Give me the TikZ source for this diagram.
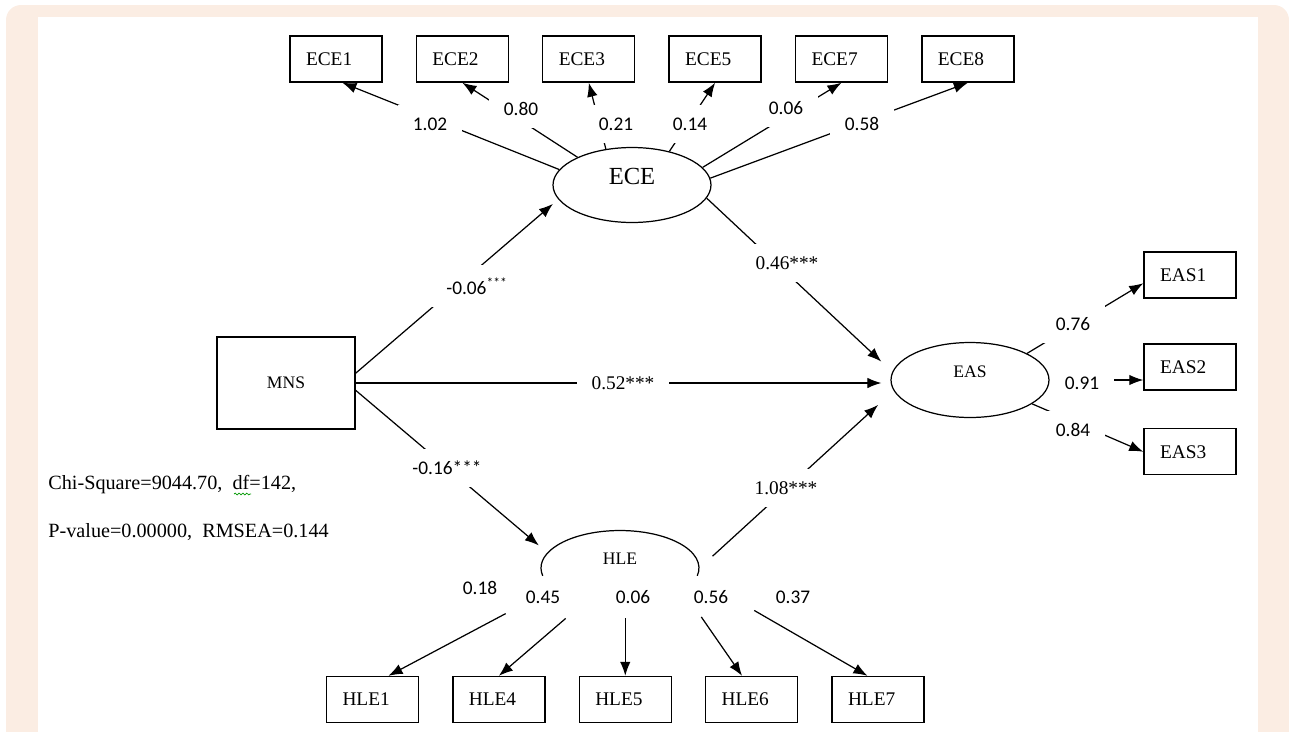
\documentclass[tikz,border=0pt]{standalone}
\usepackage{fontspec}
\setmainfont{Liberation Serif}
\newfontfamily\calibri{Carlito}
\usepackage{tikz}
\usetikzlibrary{shapes,arrows,arrows.meta,positioning,decorations.pathmorphing}

\definecolor{framepeach}{RGB}{251,237,227}

\begin{document}
\begin{tikzpicture}[
    x=0.02cm, y=-0.02cm,
    node distance=0.66cm,
    box/.style={rectangle, draw, line width=0.8pt, minimum width=1.84cm, minimum height=0.92cm, text width=1.2cm, inner xsep=0.32cm, align=left, font=\fontsize{11}{12}\selectfont},
    bigbox/.style={rectangle, draw, line width=0.8pt, minimum width=2.76cm, minimum height=1.84cm, font=\fontsize{10}{12}\selectfont},
    latent/.style={ellipse, draw, line width=0.7pt, minimum width=3.16cm, minimum height=1.5cm, text depth=10pt, font=\fontsize{10}{12}\selectfont},
    arrow/.style={-{Latex[length=8pt, width=6pt]}, line width=0.7pt},
    link/.style={line width=0.7pt},
    load/.style={fill=white, inner xsep=0.3cm, inner ysep=0.25cm, font=\calibri\fontsize{11}{13}\selectfont},
    coef/.style={load, font=\fontsize{11}{13}\selectfont},
    num/.style={font=\calibri\fontsize{11}{13}\selectfont},
    fitnote/.style={anchor=west, inner sep=0pt, font=\fontsize{11.5}{14}\selectfont}
]
% page frame
\clip (0,0) rectangle (1289,731);
\fill[framepeach, rounded corners=0.3cm] (6,5) rectangle (1289,760);
\fill[white] (38,17) rectangle (1258,760);

% constructs
\node[bigbox] (mns) at (286,383) {MNS};
\node[latent, font=\fontsize{14}{16}\selectfont] (ece) at (632,185) {ECE};
\node[latent] (eas) at (970,380) {EAS};
\node[latent, draw=none] (hle) at (620,568) {HLE};
\draw[link] (hle.center) ++(192:1.58cm and 0.75cm) arc[start angle=192, end angle=-12, x radius=1.58cm, y radius=0.75cm];

% indicators
\node[box] (ece1) at (336,59) {ECE1};
\node[box, right=of ece1] (ece2) {ECE2};
\node[box, right=of ece2] (ece3) {ECE3};
\node[box, right=of ece3] (ece5) {ECE5};
\node[box, right=of ece5] (ece7) {ECE7};
\node[box, right=of ece7] (ece8) {ECE8};

\node[box] (eas1) at (1190,275) {EAS1};
\node[box, below=0.89cm of eas1] (eas2) {EAS2};
\node[box, below=0.75cm of eas2] (eas3) {EAS3};

\node[box] (hle1) at (372.5,699.5) {HLE1};
\node[box, right=of hle1] (hle4) {HLE4};
\node[box, right=of hle4] (hle5) {HLE5};
\node[box, right=of hle5] (hle6) {HLE6};
\node[box, right=of hle6] (hle7) {HLE7};

% structural paths
\draw[arrow, shorten >=0.14cm] (mns.8) -- (ece.191);
\draw[arrow, shorten >=0.18cm] (mns.east) -- (mns.east -| eas.west);
\draw[arrow, shorten >=0.22cm] (mns.-6) -- (hle.168);
\draw[arrow, shorten >=0.3cm] (ece.-10) -- (eas.174);
\draw[arrow, shorten <=0.35cm, shorten >=0.42cm] (hle.east) -- (eas.188);

% loadings
\draw[arrow] (ece.168) -- (ece1.-75);
\draw[arrow] (ece.153) -- (ece2.south);
\draw[arrow] (ece.126) -- (ece3.south);
\draw[arrow] (ece.42) -- (ece5.south);
\draw[arrow] (ece.14) -- (ece7.south);
\draw[arrow] (ece.5) -- (ece8.south);

\draw[arrow] (eas.25) -- (eas1.190);
\draw[arrow] (eas.east) -- (eas.east -| eas2.west);
\draw[arrow] (eas.-21) -- (eas3.west);

\draw[arrow, shorten <=1.07cm] (hle.197) -- (hle1.56);
\draw[arrow, shorten <=0.5cm] (hle.224) -- (hle4.north);
\draw[arrow, shorten <=0.24cm] (hle.south -| hle5.north) -- (hle5.north);
\draw[arrow, shorten <=0.63cm] (hle.-20) -- (hle6.112);
\draw[arrow, shorten <=1.32cm] (hle.-7) -- (hle7.114);

% coefficients
\node[load] (b1) at (477,286) {-0.06\textsuperscript{***}};
\node[coef] (b2) at (623,383) {0.52***};
\node[load] (b3) at (447,468) {-0.16***};
\node[coef] (b4) at (787,263) {0.46***};
\node[coef] (b5) at (786,488) {1.08***};

\node[load] (l1) at (430,124) {1.02};
\node[load] (l2) at (521,109) {0.80};
\node[load] (l3) at (616,124) {0.21};
\node[load] (l5) at (690,124) {0.14};
\node[load] (l7) at (786,108) {0.06};
\node[load] (l8) at (862,124) {0.58};

\node[load] (m1) at (1073,324) {0.76};
\node[load] (m2) at (1082,383) {0.91};
\node[load] (m3) at (1073,430) {0.84};

\node[num] (h1) at (480,588) {0.18};
\node[num] (h4) at (543,597) {0.45};
\node[num] (h5) at (633,597) {0.06};
\node[num] (h6) at (711,597) {0.56};
\node[num] (h7) at (793,597) {0.37};

% fit indices
\node[fitnote] (chi) at (48,485) {Chi-Square=9044.70,\ \ df=142,};
\node[fitnote] (pval) at (48,532) {P-value=0.00000,\ \ RMSEA=0.144};
\draw[green!60!black, line width=0.4pt, decorate, decoration={snake, amplitude=0.5pt, segment length=2.2pt}] (234,494) -- (251,494);
\end{tikzpicture}
\end{document}
